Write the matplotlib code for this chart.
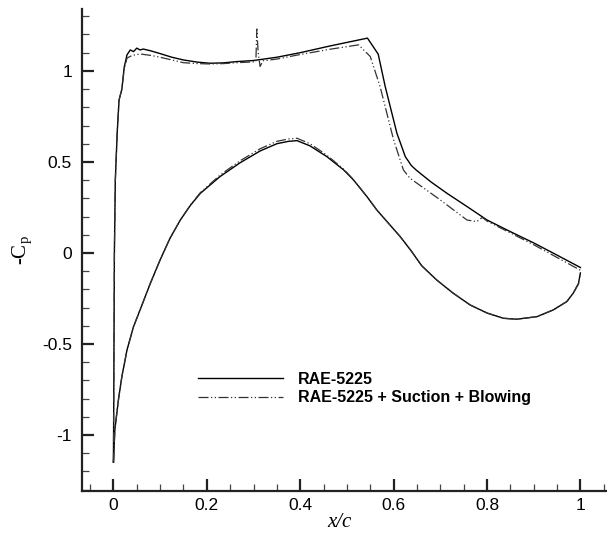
import matplotlib
matplotlib.use('Agg')
import numpy as np
import matplotlib.pyplot as plt
from matplotlib.ticker import MultipleLocator

plt.rcParams['font.family'] = ['Liberation Sans', 'DejaVu Sans']

# RAE-5225, upper branch (suction side), x/c and -Cp
base_up_x = [0.0, 0.001, 0.002, 0.004, 0.008, 0.012, 0.018, 0.023, 0.029, 0.036,
             0.043, 0.05, 0.057, 0.064, 0.08, 0.1, 0.125, 0.15, 0.18, 0.207,
             0.235, 0.264, 0.3, 0.35, 0.4, 0.464, 0.544, 0.567, 0.582, 0.607,
             0.625, 0.638, 0.648, 0.68, 0.714, 0.76, 0.8, 0.85, 0.9, 0.95, 1.0]
base_up_cp = [-1.15, -0.6, 0.0, 0.4, 0.66, 0.84, 0.9, 1.02, 1.088, 1.115,
              1.106, 1.125, 1.115, 1.12, 1.11, 1.095, 1.075, 1.06, 1.048, 1.042,
              1.044, 1.051, 1.057, 1.075, 1.1, 1.137, 1.18, 1.092, 0.914, 0.658,
              0.529, 0.48, 0.456, 0.39, 0.328, 0.25, 0.181, 0.117, 0.055, -0.012, -0.08]
# RAE-5225, lower branch
base_lo_x = [0.0, 0.003, 0.011, 0.018, 0.029, 0.043, 0.057, 0.079, 0.1, 0.121,
             0.143, 0.165, 0.186, 0.228, 0.271, 0.314, 0.35, 0.375, 0.393, 0.421,
             0.457, 0.493, 0.514, 0.543, 0.564, 0.59, 0.614, 0.638, 0.66, 0.692,
             0.727, 0.764, 0.8, 0.835, 0.864, 0.907, 0.942, 0.971, 0.985, 0.996, 1.0]
base_lo_cp = [-1.15, -0.97, -0.8, -0.68, -0.533, -0.405, -0.313, -0.167, -0.038, 0.08,
              0.18, 0.262, 0.327, 0.419, 0.495, 0.56, 0.6, 0.613, 0.617, 0.588,
              0.529, 0.456, 0.401, 0.309, 0.236, 0.16, 0.09, 0.01, -0.07, -0.148,
              -0.22, -0.286, -0.33, -0.359, -0.364, -0.35, -0.313, -0.267, -0.22, -0.167, -0.11]

# RAE-5225 + Suction + Blowing
ctrl_up_x = [0.0, 0.001, 0.002, 0.004, 0.008, 0.012, 0.018, 0.023, 0.029, 0.04,
             0.057, 0.08, 0.1, 0.125, 0.15, 0.18, 0.207, 0.235, 0.264, 0.305,
             0.307, 0.31, 0.314, 0.32, 0.35, 0.4, 0.464, 0.525, 0.55, 0.571,
             0.6, 0.621, 0.635, 0.65, 0.7, 0.757, 0.778, 0.79, 0.8, 0.85,
             0.9, 0.95, 1.0]
ctrl_up_cp = [-1.15, -0.6, 0.0, 0.4, 0.66, 0.84, 0.9, 1.01, 1.07, 1.085,
              1.093, 1.085, 1.075, 1.06, 1.045, 1.04, 1.038, 1.04, 1.045, 1.05,
              1.23, 1.1, 1.024, 1.055, 1.065, 1.09, 1.119, 1.143, 1.079, 0.914,
              0.621, 0.456, 0.41, 0.383, 0.291, 0.181, 0.172, 0.195, 0.175, 0.11,
              0.045, -0.025, -0.095]
ctrl_lo_x = base_lo_x
ctrl_lo_cp = [-1.15, -0.97, -0.8, -0.68, -0.533, -0.405, -0.313, -0.167, -0.038, 0.08,
              0.18, 0.264, 0.331, 0.427, 0.506, 0.572, 0.613, 0.626, 0.63, 0.6,
              0.537, 0.46, 0.403, 0.309, 0.236, 0.16, 0.09, 0.01, -0.07, -0.148,
              -0.22, -0.286, -0.33, -0.359, -0.364, -0.35, -0.313, -0.267, -0.22, -0.17, -0.12]

fig = plt.figure(figsize=(6.07, 5.45), dpi=100)
ax = fig.add_axes([0.1346, 0.099, 0.8654, 0.8845])

ax.plot(base_up_x, base_up_cp, color='black', lw=1.0, label='RAE-5225')
ax.plot(base_lo_x, base_lo_cp, color='black', lw=1.0)
dd = (0, (8, 2, 1, 2, 1, 2))
ax.plot(ctrl_up_x, ctrl_up_cp, color='#333333', lw=0.9, ls=dd,
        label='RAE-5225 + Suction + Blowing')
ax.plot(ctrl_lo_x, ctrl_lo_cp, color='#333333', lw=0.9, ls=dd)

ax.set_xlim(-0.068, 1.057)
ax.set_ylim(-1.308, 1.34)
ax.xaxis.set_minor_locator(MultipleLocator(0.05))
ax.yaxis.set_minor_locator(MultipleLocator(0.1))
ax.set_xticks([0, 0.2, 0.4, 0.6, 0.8, 1.0])
ax.set_xticklabels(['0', '0.2', '0.4', '0.6', '0.8', '1'])
ax.set_yticks([-1, -0.5, 0, 0.5, 1])
ax.set_yticklabels(['-1', '-0.5', '0', '0.5', '1'])

for s in ['top', 'right']:
    ax.spines[s].set_visible(False)
for s in ['left', 'bottom']:
    ax.spines[s].set_linewidth(1.6)
    ax.spines[s].set_color('#222222')
ax.tick_params(which='major', direction='in', length=8.5, width=1.6,
               labelsize=12.5, pad=7, color='#222222')
ax.tick_params(which='minor', direction='in', length=5, width=0.9,
               color='#444444')
ax.tick_params(axis='x', which='major', pad=5)

ax.set_xlabel('x/c', family='Liberation Serif', style='italic', fontsize=15)
ax.xaxis.set_label_coords(0.49, -0.045)
ax.set_ylabel(r'-$\mathregular{C_p}$', family='Liberation Serif', fontsize=15)
ax.yaxis.set_label_coords(-0.09, 0.5)

ax.legend(loc='upper left', bbox_to_anchor=(0.2214, 0.247), frameon=False,
          borderaxespad=0, borderpad=0, handlelength=5.3, handletextpad=0.95,
          labelspacing=0.2, prop={'weight': 'bold', 'size': 11.5})

fig.savefig('out.png', dpi=100)
